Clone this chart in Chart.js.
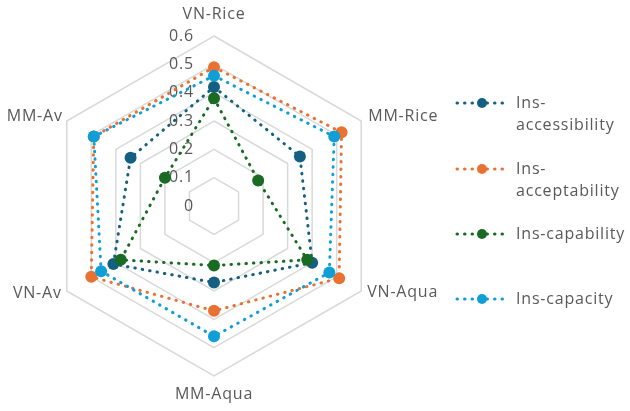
<!DOCTYPE html>
<html><head><meta charset="utf-8">
<script src="https://cdn.jsdelivr.net/npm/chart.js@4/dist/chart.umd.min.js"></script>
<style>html,body{margin:0;padding:0;background:#fff;}#wrap{width:630px;height:411px;position:relative;}</style>
</head><body><div id="wrap"><canvas id="c" width="630" height="411"></canvas></div>
<script>
const categories = ['VN-Rice','MM-Rice','VN-Aqua','MM-Aqua','VN-Av','MM-Av'];
const seriesNames = ['Ins-accessibility','Ins-acceptability','Ins-capability','Ins-capacity'];
const accessibility = [0.42,0.35,0.40,0.27,0.41,0.34];
const acceptability = [0.49,0.52,0.51,0.37,0.50,0.49];
const capability    = [0.38,0.18,0.38,0.21,0.38,0.20];
const capacity      = [0.46,0.49,0.47,0.46,0.46,0.49];
const tickLabels = ['0','0.1','0.2','0.3','0.4','0.5','0.6'];

const colors = ['#156082','#E97132','#196B24','#0F9ED5'];
const seriesValues = [accessibility, acceptability, capability, capacity];
const FONT = '"Open Sans", "Liberation Sans", sans-serif';
const TEXT = '#595959';
const SPACING = '0.8px';

const datasets = seriesValues.map((vals, i) => ({
  label: seriesNames[i],
  data: vals,
  borderColor: colors[i],
  backgroundColor: colors[i],
  pointBackgroundColor: colors[i],
  pointBorderColor: colors[i],
  pointBorderWidth: 0,
  pointRadius: 6,
  borderWidth: 3,
  borderDash: [0.5, 7],
  borderCapStyle: 'round',
  fill: false,
  tension: 0,
  order: seriesValues.length - i
}));

function setText(ctx) {
  ctx.font = '16px ' + FONT;
  ctx.fillStyle = TEXT;
  if ('letterSpacing' in ctx) ctx.letterSpacing = SPACING;
}

const tickPlugin = {
  id: 'tickText',
  beforeDatasetsDraw(chart) {
    const s = chart.scales.r, ctx = chart.ctx;
    ctx.save();
    setText(ctx);
    ctx.textAlign = 'right';
    ctx.textBaseline = 'middle';
    s.ticks.forEach((t, i) => {
      const y = s.yCenter - s.getDistanceFromCenterForValue(t.value);
      ctx.fillText(tickLabels[i] !== undefined ? tickLabels[i] : String(t.value), s.xCenter - 20, y);
    });
    ctx.restore();
  }
};

const labelPlugin = {
  id: 'catLabels',
  afterDraw(chart) {
    const s = chart.scales.r, ctx = chart.ctx;
    ctx.save();
    setText(ctx);
    ctx.textBaseline = 'middle';
    const adj = [
      {dx: 0, dy: -22, a: 'center'},
      {dx: 7, dy: -5, a: 'left'},
      {dx: 6, dy: 1, a: 'left'},
      {dx: 0, dy: 18, a: 'center'},
      {dx: -5, dy: 2, a: 'right'},
      {dx: -4, dy: -5, a: 'right'}
    ];
    categories.forEach((c, i) => {
      const p = s.getPointPosition(i, s.drawingArea);
      ctx.textAlign = adj[i].a;
      ctx.fillText(c, p.x + adj[i].dx, p.y + adj[i].dy);
    });
    ctx.restore();
  }
};

const legendPlugin = {
  id: 'sideLegend',
  afterDraw(chart) {
    const ctx = chart.ctx;
    const rows = [
      {y: 103, lines: ['Ins-', 'accessibility']},
      {y: 169, lines: ['Ins-', 'acceptability']},
      {y: 234, lines: ['Ins-capability']},
      {y: 299, lines: ['Ins-capacity']}
    ];
    ctx.save();
    rows.forEach((r, i) => {
      ctx.strokeStyle = colors[i];
      ctx.lineWidth = 3;
      ctx.lineCap = 'round';
      ctx.setLineDash([0.5, 7]);
      ctx.beginPath();
      ctx.moveTo(457, r.y);
      ctx.lineTo(509, r.y);
      ctx.stroke();
      ctx.setLineDash([]);
      ctx.fillStyle = colors[i];
      ctx.beginPath();
      ctx.arc(482, r.y, 5, 0, Math.PI * 2);
      ctx.fill();
      setText(ctx);
      ctx.textAlign = 'left';
      ctx.textBaseline = 'middle';
      r.lines.forEach((t, k) => ctx.fillText(t, 516, r.y + k * 22));
    });
    ctx.restore();
  }
};

new Chart(document.getElementById('c'), {
  type: 'radar',
  data: { labels: categories, datasets },
  options: {
    responsive: false,
    animation: false,
    devicePixelRatio: 1,
    layout: { padding: { left: 44, right: 246, top: 36, bottom: 35 } },
    plugins: { legend: { display: false }, tooltip: { enabled: false } },
    scales: {
      r: {
        min: 0, max: 0.6,
        ticks: { stepSize: 0.1, display: false },
        grid: { color: '#d9d9d9', lineWidth: 1.5 },
        angleLines: { display: false },
        pointLabels: { display: false }
      }
    }
  },
  plugins: [tickPlugin, labelPlugin, legendPlugin]
});
</script>
</body></html>
